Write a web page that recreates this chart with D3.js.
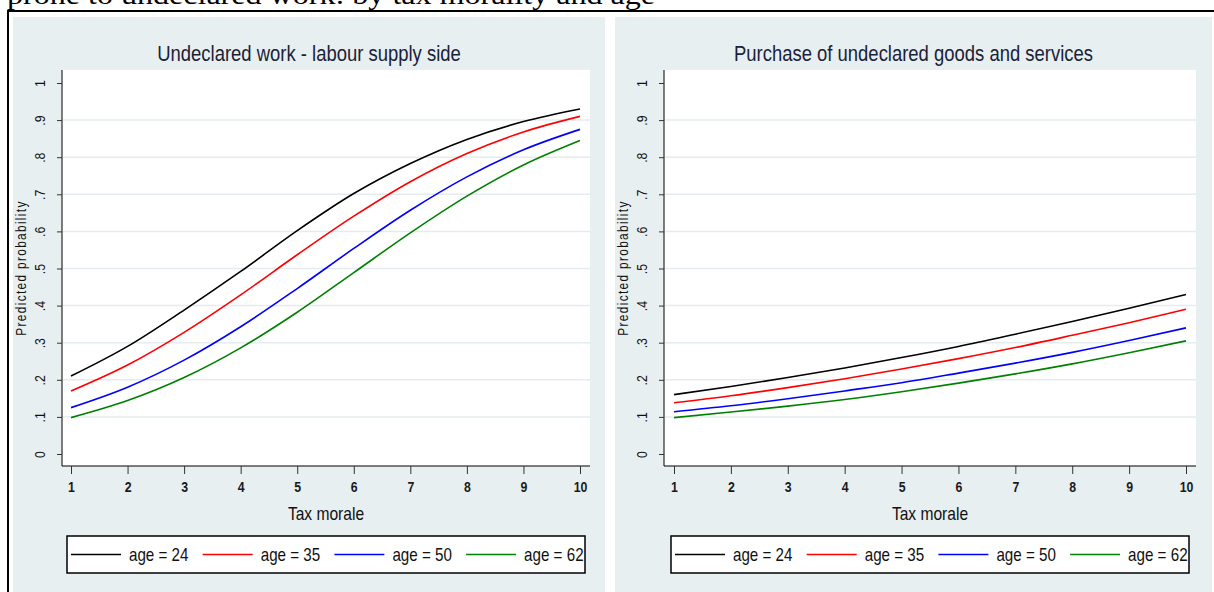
<!DOCTYPE html>
<html>
<head>
<meta charset="utf-8">
<script src="https://cdn.jsdelivr.net/npm/d3@7"></script>
<style>
  html, body { margin: 0; padding: 0; background: #ffffff; }
  svg { display: block; }
  .narrow { font-family: "Liberation Sans", Arial, sans-serif; }
</style>
</head>
<body>
<svg id="chart" width="1214" height="592"></svg>
<script>
// Tax morale scale (x) and predicted-probability ticks (y)
const taxMorale = [1, 2, 3, 4, 5, 6, 7, 8, 9, 10];
const yTickValues = [0, 0.1, 0.2, 0.3, 0.4, 0.5, 0.6, 0.7, 0.8, 0.9, 1];
const yTickLabels = ["0", ".1", ".2", ".3", ".4", ".5", ".6", ".7", ".8", ".9", "1"];
const ageLabels = ["age = 24", "age = 35", "age = 50", "age = 62"];

// Undeclared work - labour supply side
const supplyAge24 = [0.210, 0.290, 0.388, 0.492, 0.602, 0.702, 0.783, 0.848, 0.896, 0.930];
const supplyAge35 = [0.170, 0.240, 0.328, 0.429, 0.537, 0.641, 0.734, 0.810, 0.868, 0.910];
const supplyAge50 = [0.125, 0.180, 0.253, 0.343, 0.446, 0.554, 0.657, 0.747, 0.820, 0.875];
const supplyAge62 = [0.098, 0.144, 0.206, 0.286, 0.382, 0.489, 0.596, 0.695, 0.779, 0.845];

// Purchase of undeclared goods and services
const demandAge24 = [0.160, 0.182, 0.206, 0.232, 0.260, 0.290, 0.323, 0.357, 0.393, 0.430];
const demandAge35 = [0.138, 0.157, 0.179, 0.203, 0.229, 0.257, 0.287, 0.320, 0.354, 0.390];
const demandAge50 = [0.114, 0.130, 0.149, 0.170, 0.192, 0.218, 0.245, 0.274, 0.306, 0.340];
const demandAge62 = [0.098, 0.113, 0.129, 0.147, 0.168, 0.191, 0.216, 0.243, 0.273, 0.305];

const lineColors = ["#000000", "#ff0000", "#0000ff", "#008000"];
const bgColor = "#e8eff1";
const gridColor = "#e4ecef";
const titleColor = "#1a2238";

const panels = [
  { title: "Undeclared work - labour supply side",
    series: [supplyAge24, supplyAge35, supplyAge50, supplyAge62],
    bg: [13, 605], plot: [62, 590], xr: [71, 580] },
  { title: "Purchase of undeclared goods and services",
    series: [demandAge24, demandAge35, demandAge50, demandAge62],
    bg: [615, 1212], plot: [664, 1196], xr: [674, 1186] }
];

// Condense text horizontally (narrow sans look)
function condense(sel, factor) {
  sel.each(function () {
    const w = this.getComputedTextLength();
    if (w > 0) {
      d3.select(this)
        .attr("textLength", w * factor)
        .attr("lengthAdjust", "spacingAndGlyphs");
    }
  });
  return sel;
}
const NARROW = 0.82;

const svg = d3.select("#chart");
const W = 1214, H = 592;
const plotTop = 70, plotBottom = 466;

// Caption line cut at the top edge
svg.append("text")
  .attr("x", 7).attr("y", 4)
  .attr("font-family", "'Liberation Serif', 'Times New Roman', serif")
  .attr("font-size", 27)
  .attr("textLength", 648)
  .attr("lengthAdjust", "spacingAndGlyphs")
  .attr("fill", "#000")
  .text("prone to undeclared work: by tax morality and age");

const y = d3.scaleLinear().domain([0, 1]).range([454, 83]);

panels.forEach(p => {
  const g = svg.append("g");
  // graph region
  g.append("rect")
    .attr("x", p.bg[0]).attr("y", 17)
    .attr("width", p.bg[1] - p.bg[0]).attr("height", H - 17)
    .attr("fill", bgColor);
  // plot region
  g.append("rect")
    .attr("x", p.plot[0]).attr("y", plotTop)
    .attr("width", p.plot[1] - p.plot[0]).attr("height", plotBottom - plotTop)
    .attr("fill", "#ffffff");

  const x = d3.scaleLinear().domain([1, 10]).range(p.xr);

  // horizontal grid lines
  g.selectAll(".grid")
    .data(yTickValues.slice(1, -1))
    .join("line")
    .attr("x1", p.plot[0] + 1).attr("x2", p.plot[1])
    .attr("y1", d => y(d)).attr("y2", d => y(d))
    .attr("stroke", gridColor).attr("stroke-width", 1.5);

  // title
  g.append("text")
    .attr("class", "narrow")
    .attr("x", (p.bg[0] + p.bg[1]) / 2).attr("y", 61)
    .attr("text-anchor", "middle")
    .attr("font-size", 22.5)
    .attr("fill", titleColor)
    .text(p.title)
    .call(condense, NARROW);

  // y axis
  const yAxis = d3.axisLeft(y)
    .tickValues(yTickValues)
    .tickFormat((d, i) => yTickLabels[i])
    .tickSize(5).tickPadding(4);
  const ya = g.append("g")
    .attr("transform", `translate(${p.plot[0]},0)`)
    .call(yAxis);
  ya.select(".domain").attr("d", `M0,${plotTop}V${plotBottom}`).attr("stroke", "#000");
  ya.selectAll(".tick line").attr("stroke", "#333");
  ya.selectAll(".tick text")
    .attr("class", "narrow")
    .attr("font-size", 15)
    .attr("fill", "#111")
    .attr("transform", "rotate(-90)")
    .attr("x", 0).attr("y", -22)
    .attr("dy", "0.35em")
    .attr("text-anchor", "middle")
    .call(condense, NARROW);

  // x axis
  const xAxis = d3.axisBottom(x)
    .tickValues(taxMorale)
    .tickFormat(d3.format("d"))
    .tickSize(8).tickPadding(7);
  const xa = g.append("g")
    .attr("transform", `translate(0,${plotBottom})`)
    .call(xAxis);
  xa.select(".domain").attr("d", `M${p.plot[0]},0H${p.plot[1]}`).attr("stroke", "#000");
  xa.selectAll(".tick line").attr("stroke", "#333");
  xa.selectAll(".tick text")
    .attr("class", "narrow")
    .attr("font-size", 15)
    .attr("font-weight", "bold")
    .attr("fill", "#1a1a1a")
    .call(condense, NARROW);

  // axis titles
  g.append("text")
    .attr("class", "narrow")
    .attr("x", (p.plot[0] + p.plot[1]) / 2).attr("y", 520)
    .attr("text-anchor", "middle")
    .attr("font-size", 19)
    .attr("fill", "#111")
    .text("Tax morale")
    .call(condense, NARROW);
  g.append("text")
    .attr("class", "narrow")
    .attr("transform", `translate(${p.plot[0] - 36},268) rotate(-90)`)
    .attr("text-anchor", "middle")
    .attr("font-size", 14.5)
    .attr("letter-spacing", 1.6)
    .attr("fill", "#111")
    .text("Predicted probability")
    .call(condense, NARROW);

  // curves
  const line = d3.line()
    .x((d, i) => x(taxMorale[i]))
    .y(d => y(d))
    .curve(d3.curveMonotoneX);
  p.series.forEach((s, k) => {
    g.append("path")
      .datum(s)
      .attr("d", line)
      .attr("fill", "none")
      .attr("stroke", lineColors[k])
      .attr("stroke-width", 1.6);
  });

  // legend
  const cx = (p.plot[0] + p.plot[1]) / 2;
  const lw = 518, lx = cx - lw / 2, ly = 536, lh = 37;
  const lg = g.append("g");
  lg.append("rect")
    .attr("x", lx).attr("y", ly).attr("width", lw).attr("height", lh)
    .attr("fill", "#fff").attr("stroke", "#000").attr("stroke-width", 1.5);
  const slot = 131.7;
  ageLabels.forEach((lab, k) => {
    const sx = lx + 4 + k * slot;
    lg.append("line")
      .attr("x1", sx).attr("x2", sx + 50)
      .attr("y1", ly + lh / 2).attr("y2", ly + lh / 2)
      .attr("stroke", lineColors[k]).attr("stroke-width", 1.6);
    lg.append("text")
      .attr("class", "narrow")
      .attr("x", sx + 58).attr("y", ly + lh / 2)
      .attr("dy", "0.35em")
      .attr("font-size", 18.5)
      .attr("fill", "#111")
      .text(lab)
      .call(condense, NARROW);
  });
});

// outer frame lines
svg.append("line").attr("x1", 8).attr("x2", 8).attr("y1", 10).attr("y2", H)
  .attr("stroke", "#000").attr("stroke-width", 2);
svg.append("line").attr("x1", 7).attr("x2", W).attr("y1", 11).attr("y2", 11)
  .attr("stroke", "#000").attr("stroke-width", 2);
</script>
</body>
</html>
